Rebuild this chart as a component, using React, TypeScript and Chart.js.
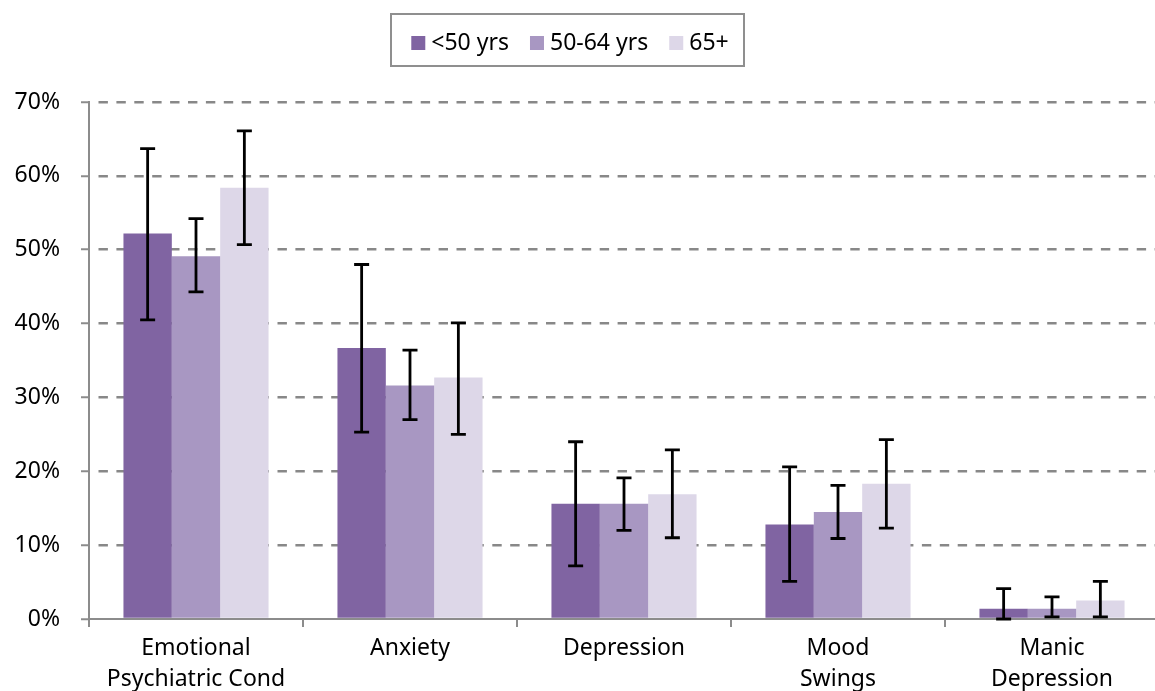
import React, { useEffect, useRef } from "react";
import { Chart, registerables } from "chart.js";

Chart.register(...registerables);

const categories: (string | string[])[] = [
  ["Emotional", "Psychiatric Cond"],
  "Anxiety",
  "Depression",
  ["Mood", "Swings"],
  ["Manic", "Depression"],
];
const seriesLabels = ["<50 yrs", "50-64 yrs", "65+"];
const seriesColors = ["#8064A2", "#A897C2", "#DDD7E8"];

const under50 = [52.2, 36.7, 15.6, 12.8, 1.4];
const under50Low = [40.5, 25.3, 7.2, 5.1, 0.0];
const under50High = [63.7, 48.0, 24.0, 20.6, 4.1];

const age50to64 = [49.1, 31.6, 15.6, 14.5, 1.4];
const age50to64Low = [44.3, 27.0, 12.0, 10.9, 0.3];
const age50to64High = [54.2, 36.4, 19.1, 18.1, 3.0];

const age65plus = [58.4, 32.7, 16.9, 18.3, 2.5];
const age65plusLow = [50.7, 25.0, 11.0, 12.3, 0.3];
const age65plusHigh = [66.1, 40.1, 22.9, 24.3, 5.1];

const yTicks = [0, 10, 20, 30, 40, 50, 60, 70];

const errorLows = [under50Low, age50to64Low, age65plusLow];
const errorHighs = [under50High, age50to64High, age65plusHigh];

const FONT = "'Noto Sans', sans-serif";
const FONT_SIZE = 23;

const errorBarPlugin = {
  id: "errorBars",
  afterDatasetsDraw(chart: any) {
    const ctx = chart.ctx;
    const yScale = chart.scales.y;
    ctx.save();
    ctx.strokeStyle = "#000";
    ctx.lineWidth = 2.8;
    chart.data.datasets.forEach((_ds: any, i: number) => {
      const meta = chart.getDatasetMeta(i);
      meta.data.forEach((bar: any, j: number) => {
        const x = bar.x;
        const yl = yScale.getPixelForValue(errorLows[i][j]);
        const yh = yScale.getPixelForValue(errorHighs[i][j]);
        const cap = 7.5;
        ctx.beginPath();
        ctx.moveTo(x, yl);
        ctx.lineTo(x, yh);
        ctx.moveTo(x - cap, yh);
        ctx.lineTo(x + cap, yh);
        ctx.moveTo(x - cap, yl);
        ctx.lineTo(x + cap, yl);
        ctx.stroke();
      });
    });
    ctx.restore();
  },
};

const legendPlugin = {
  id: "boxLegend",
  afterDraw(chart: any) {
    const ctx = chart.ctx;
    ctx.save();
    ctx.font = `${FONT_SIZE}px ${FONT}`;
    const sq = 14;
    const gapSqText = 6;
    const gapItems = 21;
    const widths = seriesLabels.map((l) => ctx.measureText(l).width);
    const total =
      widths.reduce((a, w) => a + sq + gapSqText + w, 0) +
      gapItems * (seriesLabels.length - 1);
    const centerX = 570;
    const centerY = 43;
    const boxLeft = 390;
    const boxRight = 745;
    ctx.strokeStyle = "#8f8f8f";
    ctx.lineWidth = 2;
    ctx.strokeRect(boxLeft + 1, 14, boxRight - boxLeft - 2, 52);
    let x = centerX - total / 2;
    ctx.textBaseline = "middle";
    ctx.textAlign = "left";
    seriesLabels.forEach((l, i) => {
      ctx.fillStyle = seriesColors[i];
      ctx.fillRect(x, centerY - sq / 2, sq, sq);
      x += sq + gapSqText;
      ctx.fillStyle = "#000";
      ctx.fillText(l, x, centerY);
      x += widths[i] + gapItems;
    });
    ctx.restore();
  },
};

export default function App() {
  const ref = useRef<HTMLCanvasElement | null>(null);

  useEffect(() => {
    if (!ref.current) return;
    const datasets = [under50, age50to64, age65plus].map((d, i) => ({
      label: seriesLabels[i],
      data: d,
      backgroundColor: seriesColors[i],
      borderWidth: 0,
      categoryPercentage: 0.678,
      barPercentage: 1.0,
    }));
    const chart = new Chart(ref.current, {
      type: "bar",
      data: { labels: categories as any, datasets },
      options: {
        animation: false,
        responsive: false,
        layout: { padding: { top: 102, left: 0, right: 11, bottom: 0 } },
        plugins: {
          legend: { display: false },
          tooltip: { enabled: false },
        },
        scales: {
          x: {
            offset: true,
            afterFit: (s: any) => {
              s.height = 700 - 619;
            },
            grid: {
              offset: true,
              drawOnChartArea: false,
              drawTicks: true,
              tickLength: 8,
              color: "#8c8c8c",
              lineWidth: 2,
            },
            border: { display: true, color: "#8c8c8c", width: 2 },
            ticks: {
              color: "#000",
              padding: 6,
              font: { family: FONT, size: FONT_SIZE, lineHeight: 1.35 },
              maxRotation: 0,
              autoSkip: false,
            },
          },
          y: {
            min: 0,
            max: 70,
            afterFit: (s: any) => {
              s.width = 89;
            },
            afterBuildTicks: (s: any) => {
              s.ticks = yTicks.map((v) => ({ value: v }));
            },
            grid: {
              color: (c: any) => (c.tick && c.tick.value === 0 ? "rgba(0,0,0,0)" : "#888888"),
              lineWidth: 2.5,
              tickLength: 8,
              tickColor: "#8c8c8c",
              tickBorderDash: [],
              tickWidth: 2,
            },
            border: {
              display: true,
              color: "#8c8c8c",
              width: 2,
              dash: [9.4, 8.5],
              dashOffset: 9.4,
            },
            ticks: {
              color: "#000",
              padding: 21,
              font: { family: FONT, size: FONT_SIZE },
              callback: (v: any) => `${v}%`,
            },
          },
        },
      },
      plugins: [errorBarPlugin, legendPlugin],
    });
    return () => chart.destroy();
  }, []);

  return (
    <div
      style={{
        position: "fixed",
        left: 0,
        top: 0,
        width: 1155,
        height: 691,
        overflow: "hidden",
        background: "#fff",
      }}
    >
      <canvas ref={ref} width={1170} height={700} style={{ display: "block" }} />
    </div>
  );
}
